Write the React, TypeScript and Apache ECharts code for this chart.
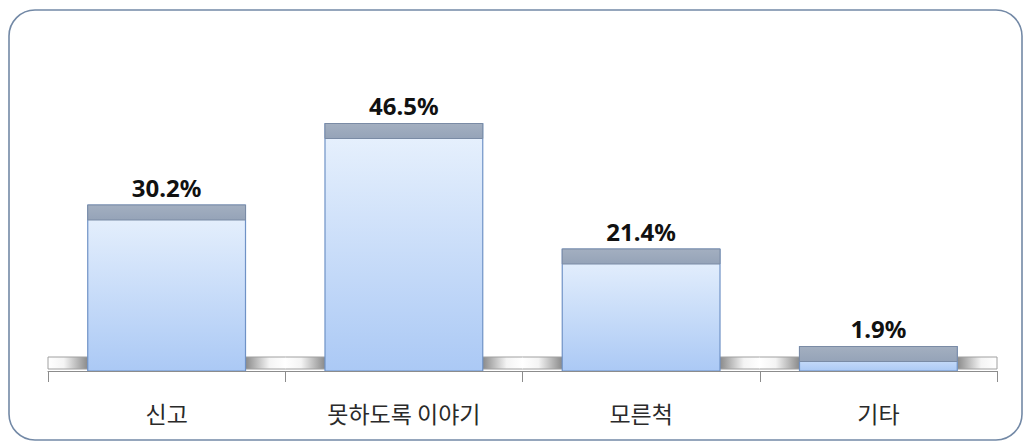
import React, { useEffect, useRef } from "react";
import * as echarts from "echarts";

const categories = ["신고", "못하도록 이야기", "모른척", "기타"];
const values = [30.2, 46.5, 21.4, 1.9];
const valueLabels = ["30.2%", "46.5%", "21.4%", "1.9%"];

export default function App() {
  const ref = useRef<HTMLDivElement>(null);
  useEffect(() => {
    document.body.style.margin = "0";
    const chart = echarts.init(ref.current!, null, { renderer: "svg" });
    const barRatio = 0.665;
    chart.setOption({
      animation: false,
      backgroundColor: "#ffffff",
      graphic: [
        {
          type: "rect",
          z: -10,
          shape: { x: 9, y: 10, width: 1013, height: 430, r: 26 },
          style: { fill: "#ffffff", stroke: "#7389a6", lineWidth: 1.6 },
        },
      ],
      grid: { left: 48, right: 32, top: 106, bottom: 72 },
      xAxis: {
        type: "category",
        data: categories,
        boundaryGap: true,
        axisLine: { show: true, onZero: false, lineStyle: { color: "#8c8c8c", width: 1 } },
        axisTick: { show: true, length: 11, lineStyle: { color: "#8c8c8c" } },
        axisLabel: {
          color: "#2a2a2a",
          fontSize: 23,
          margin: 30,
          fontFamily: "'Noto Sans CJK KR', sans-serif",
        },
        z: 5,
      },
      yAxis: {
        type: "value",
        min: -3,
        max: 50,
        show: false,
        splitLine: { show: false },
      },
      series: [
        {
          type: "custom",
          data: values.map((v, i) => [i, v]),
          renderItem: (params: any, api: any) => {
            const i = api.value(0);
            const v = api.value(1);
            const top = api.coord([i, v]);
            const base = api.coord([i, -3]);
            const zero = api.coord([i, 0]);
            const cw = api.size([1, 0])[0];
            const w = cw * barRatio;
            const x0 = top[0] - w / 2;
            const left = top[0] - cw / 2;
            const right = top[0] + cw / 2;
            const fy = zero[1] + 1;
            const fh = base[1] - fy - 2;
            const lineStyle = { stroke: "#a0a0a0", lineWidth: 1 };
            const children: any[] = [
              {
                type: "rect",
                shape: { x: left, y: fy, width: x0 - left, height: fh },
                style: {
                  fill: new echarts.graphic.LinearGradient(0, 0, 1, 0, [
                    { offset: 0, color: "#ffffff" },
                    { offset: 0.4, color: "#f4f4f4" },
                    { offset: 1, color: "#8a8a8a" },
                  ]),
                },
              },
              {
                type: "rect",
                shape: { x: x0 + w, y: fy, width: right - x0 - w, height: fh },
                style: {
                  fill: new echarts.graphic.LinearGradient(0, 0, 1, 0, [
                    { offset: 0, color: "#8a8a8a" },
                    { offset: 0.6, color: "#f4f4f4" },
                    { offset: 1, color: "#ffffff" },
                  ]),
                },
              },
              { type: "line", shape: { x1: left, y1: fy, x2: right, y2: fy }, style: lineStyle },
              { type: "line", shape: { x1: left, y1: fy + fh, x2: right, y2: fy + fh }, style: lineStyle },
            ];
            if (params.dataIndex === 0) {
              children.push({ type: "line", shape: { x1: left, y1: fy, x2: left, y2: fy + fh }, style: lineStyle });
            }
            if (params.dataIndex === values.length - 1) {
              children.push({ type: "line", shape: { x1: right, y1: fy, x2: right, y2: fy + fh }, style: lineStyle });
            }
            children.push(
              {
                type: "rect",
                shape: { x: x0, y: top[1], width: w, height: base[1] - top[1] },
                style: {
                  fill: new echarts.graphic.LinearGradient(0, 0, 0, 1, [
                    { offset: 0, color: "#e9f2fd" },
                    { offset: 1, color: "#abc9f5" },
                  ]),
                  stroke: "#6f92c6",
                  lineWidth: 1.2,
                },
              },
              {
                type: "rect",
                shape: { x: x0, y: top[1], width: w, height: 15 },
                style: {
                  fill: new echarts.graphic.LinearGradient(0, 0, 0, 1, [
                    { offset: 0, color: "#a3afc0" },
                    { offset: 1, color: "#95a3b8" },
                  ]),
                  stroke: "#7a8ba5",
                  lineWidth: 1,
                },
              },
              {
                type: "text",
                style: {
                  x: top[0],
                  y: top[1] - 6,
                  text: valueLabels[params.dataIndex],
                  align: "center",
                  verticalAlign: "bottom",
                  fill: "#111111",
                  font: "bold 24px 'Noto Sans', 'Noto Sans CJK KR', sans-serif",
                },
              }
            );
            return { type: "group", children };
          },
        },
      ],
    });
    return () => chart.dispose();
  }, []);
  return <div ref={ref} style={{ width: 1029, height: 443 }} />;
}
